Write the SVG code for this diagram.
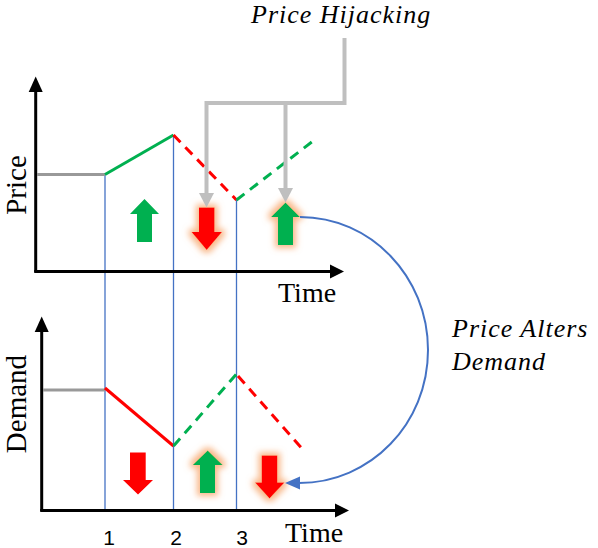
<svg xmlns="http://www.w3.org/2000/svg" width="598" height="548" viewBox="0 0 598 548">
<style>
.axis{stroke:#000;stroke-width:3;fill:none}
.ah{fill:#000}
.vl{stroke:#4472C4;stroke-width:1.3;fill:none}
.gry{stroke:#999999;stroke-width:3;fill:none}
.gs{stroke:#00B050;stroke-width:3;fill:none}
.rs{stroke:#FF0000;stroke-width:3;fill:none}
.dash{stroke-dasharray:10 7}
.hj{stroke:#BFBFBF;stroke-width:4;fill:none}
.hjh{fill:#BFBFBF}
.up{fill:#00B050}
.dn{fill:#FF0000}
.serif{font-family:"Liberation Serif","Times New Roman",serif;fill:#000}
.it{font-style:italic;font-size:26px;letter-spacing:1px}
.num{font-family:"Liberation Sans",Arial,sans-serif;font-size:21px;fill:#000;text-anchor:middle}
</style>
<defs>
<filter id="glow" x="-60%" y="-60%" width="220%" height="220%">
<feMorphology in="SourceAlpha" operator="dilate" radius="3" result="d"/>
<feGaussianBlur in="d" stdDeviation="3" result="b"/>
<feFlood flood-color="#F7A56A" flood-opacity="0.8"/>
<feComposite in2="b" operator="in" result="g"/>
<feMerge><feMergeNode in="g"/><feMergeNode in="SourceGraphic"/></feMerge>
</filter>
</defs>

<g id="guides">
<line class="vl" x1="105" y1="174" x2="105" y2="511"/>
<line class="vl" x1="173.5" y1="135" x2="173.5" y2="511"/>
<line class="vl" x1="236.5" y1="200" x2="236.5" y2="511"/>
</g>

<g id="price-chart">
<line class="axis" x1="35.7" y1="90" x2="35.7" y2="272"/>
<line class="axis" x1="34.2" y1="271.5" x2="331" y2="271.5"/>
<polygon class="ah" points="35.7,76.5 28.7,92 42.7,92"/>
<polygon class="ah" points="344,271.5 330,264.5 330,278.5"/>
<text class="serif" font-size="29" text-anchor="middle" transform="translate(26,185) rotate(-90)">Price</text>
<text class="serif" font-size="28" x="278" y="302">Time</text>
<line class="gry" x1="37" y1="174.5" x2="105" y2="174.5"/>
<line class="gs" x1="105" y1="174.5" x2="173.5" y2="135"/>
<line class="rs dash" x1="173.5" y1="135" x2="236.5" y2="200"/>
<line class="gs dash" x1="236.5" y1="200" x2="313" y2="141"/>
</g>

<g id="demand-chart">
<line class="axis" x1="41.7" y1="330" x2="41.7" y2="511"/>
<line class="axis" x1="40.2" y1="510.5" x2="336" y2="510.5"/>
<polygon class="ah" points="41.7,316.5 34.7,332 48.7,332"/>
<polygon class="ah" points="349,510.5 335,503.5 335,517.5"/>
<text class="serif" font-size="29" text-anchor="middle" transform="translate(26,404) rotate(-90)">Demand</text>
<text class="serif" font-size="28" x="285" y="541.5">Time</text>
<text class="num" x="109" y="545">1</text>
<text class="num" x="176" y="545">2</text>
<text class="num" x="242" y="545">3</text>
<line class="gry" x1="43" y1="390" x2="105" y2="390"/>
<line class="rs" x1="105" y1="388" x2="173.5" y2="446"/>
<line class="gs dash" x1="173.5" y1="446" x2="236.5" y2="374"/>
<line class="rs dash" x1="238" y1="376" x2="305" y2="452"/>
</g>

<g id="price-arrows">
<polygon class="up" points="144.5,199 159,214 152,214 152,242 137,242 137,214 130,214"/>
<polygon class="dn" filter="url(#glow)" points="199,207.5 214.5,207.5 214.5,232 222,232 206.7,250 191.5,232 199,232"/>
<polygon class="up" filter="url(#glow)" points="285.5,202.5 300,217 293,217 293,245 278,245 278,217 271,217"/>
</g>

<g id="demand-arrows">
<polygon class="dn" points="130,452.5 145.7,452.5 145.7,480 153,480 138,494.5 123,480 130,480"/>
<polygon class="up" filter="url(#glow)" points="207.7,450.5 222.7,465 215,465 215,493 200,493 200,465 192.7,465"/>
<polygon class="dn" filter="url(#glow)" points="261.7,455.5 277.3,455.5 277.3,482.5 284.5,482.5 269.5,498.5 255,482.5 261.7,482.5"/>
</g>

<g id="price-hijacking">
<text class="serif it" x="251" y="23">Price Hijacking</text>
<path class="hj" d="M344.5,38 V103 H206.5 V195"/>
<path class="hj" d="M285.5,103 V190"/>
<polygon class="hjh" points="199,193 214,193 206.5,207.5"/>
<polygon class="hjh" points="278,188 293,188 285.5,202.5"/>
</g>

<g id="connectors">
<path d="M300,217 C370.7,217 428,276.5 428,350 C428,423.5 370.7,483 299,483" stroke="#4472C4" stroke-width="2" fill="none"/>
<polygon fill="#4472C4" points="285,483 300,476.5 300,489.5"/>
</g>

<g id="price-alters">
<text class="serif it" x="452" y="337">Price Alters</text>
<text class="serif it" x="452" y="370">Demand</text>
</g>
</svg>
